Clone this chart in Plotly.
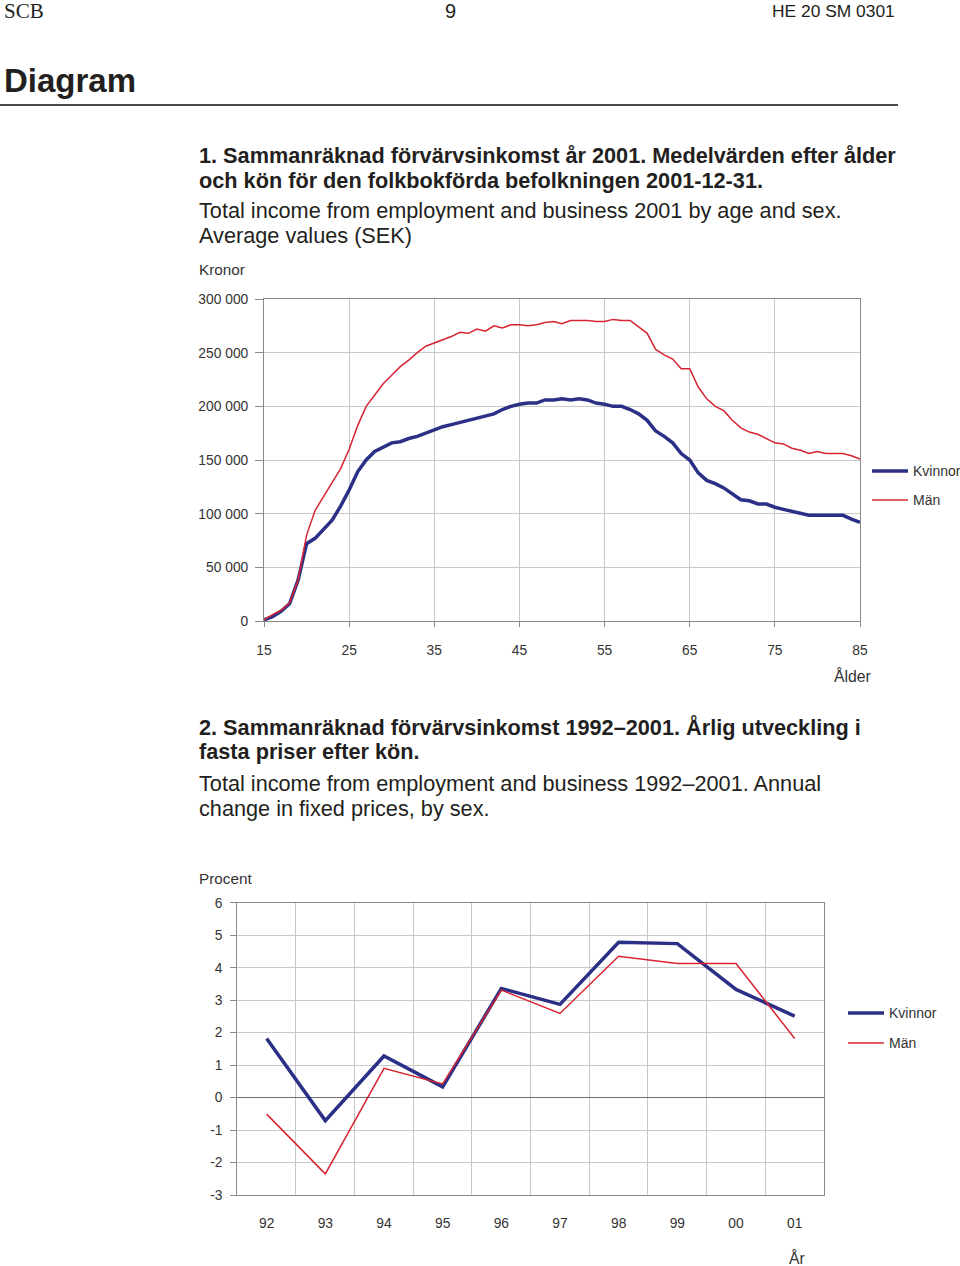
import plotly.graph_objects as go

# ---------------- Data ----------------
ages = list(range(15, 86))
kvinnor_age = [1000, 4000, 9000, 16000, 38000, 72000, 77000, 85000, 94000, 107000,
               122000, 139000, 150000, 158000, 162000, 166000, 167000, 170000, 172000, 175000,
               178000, 181000, 183000, 185000, 187000, 189000, 191000, 193000, 197000, 200000,
               202000, 203000, 203000, 206000, 206000, 207000, 206000, 207000, 206000, 203000,
               202000, 200000, 200000, 197000, 193000, 187000, 177000, 172000, 166000, 156000,
               150000, 138000, 131000, 128000, 124000, 118000, 113000, 112000, 109000, 109000,
               106000, 104000, 102000, 100000, 98500, 98500, 98500, 98500, 98500, 95000,
               92000]
man_age = [1000, 6000, 10000, 17000, 38000, 80000, 103000, 116000, 128000, 142000,
           160000, 182000, 200000, 211000, 221000, 229000, 237000, 243000, 250000, 256000,
           259000, 262000, 265000, 269000, 268000, 272000, 270000, 275000, 273000, 276000,
           276000, 275000, 276000, 278000, 279000, 277000, 280000, 280000, 280000, 279000,
           279000, 281000, 280000, 280000, 274000, 268000, 253000, 248000, 244000, 235000,
           235000, 218000, 207000, 200000, 196000, 187000, 180000, 176000, 174000, 170000,
           166000, 165000, 161000, 159000, 156000, 158000, 156000, 156000, 156000, 154000,
           151000]

age_ticks = [15, 25, 35, 45, 55, 65, 75, 85]
kronor_ticks = [0, 50000, 100000, 150000, 200000, 250000, 300000]
kronor_labels = ["0", "50 000", "100 000", "150 000", "200 000", "250 000", "300 000"]

years = ["92", "93", "94", "95", "96", "97", "98", "99", "00", "01"]
kvinnor_year = [1.82, -0.71, 1.28, 0.33, 3.36, 2.87, 4.78, 4.74, 3.33, 2.51]
man_year = [-0.51, -2.35, 0.90, 0.42, 3.31, 2.59, 4.35, 4.13, 4.13, 1.82]
procent_ticks = [-3, -2, -1, 0, 1, 2, 3, 4, 5, 6]
procent_labels = ["-3", "-2", "-1", "0", "1", "2", "3", "4", "5", "6"]

series_names = ["Kvinnor", "Män"]

# ---------------- Styling ----------------
W, H = 960, 1266
BLUE = "#2B2F86"
RED = "#D62430"
GRID = "#C8C8C8"
AXIS = "#8A8A8A"
TICKC = "#333333"
FONT = "Liberation Sans, Arial, sans-serif"


def px(x):
    return x / W


def py(y):
    return 1 - y / H


fig = go.Figure()

# Chart 1
fig.add_trace(go.Scatter(x=ages, y=kvinnor_age, mode="lines", name=series_names[0],
                         line=dict(color=BLUE, width=3.5), xaxis="x", yaxis="y",
                         showlegend=False))
fig.add_trace(go.Scatter(x=ages, y=man_age, mode="lines", name=series_names[1],
                         line=dict(color=RED, width=1.5), xaxis="x", yaxis="y",
                         showlegend=False))
# Chart 2
fig.add_trace(go.Scatter(x=years, y=kvinnor_year, mode="lines", name=series_names[0],
                         line=dict(color=BLUE, width=3.5), xaxis="x2", yaxis="y2",
                         showlegend=False))
fig.add_trace(go.Scatter(x=years, y=man_year, mode="lines", name=series_names[1],
                         line=dict(color=RED, width=1.5), xaxis="x2", yaxis="y2",
                         showlegend=False))

tickfont = dict(family=FONT, size=13.8, color=TICKC)

fig.update_layout(
    width=W, height=H, autosize=False,
    margin=dict(l=0, r=0, t=0, b=0, autoexpand=False),
    paper_bgcolor="white", plot_bgcolor="white",
    font=dict(family=FONT, color="#231F20"),
    hovermode=False,
    xaxis=dict(domain=[px(264), px(860)], range=[15, 85], anchor="y", automargin=False,
               tickvals=age_ticks, showgrid=True, gridcolor=GRID, gridwidth=1,
               showline=True, linecolor=AXIS, linewidth=1, mirror=True,
               ticks="outside", ticklen=5, tickcolor=AXIS,
               tickfont=tickfont, zeroline=False, ticklabelstandoff=11),
    yaxis=dict(domain=[py(621), py(299)], range=[0, 300000], anchor="x", automargin=False,
               tickvals=kronor_ticks, ticktext=kronor_labels,
               showgrid=True, gridcolor=GRID, gridwidth=1,
               showline=True, linecolor=AXIS, linewidth=1, mirror=True,
               ticks="outside", ticklen=8, tickcolor=AXIS,
               tickfont=tickfont, zeroline=False, ticklabelstandoff=4),
    xaxis2=dict(domain=[px(237.3), px(824)], anchor="y2", type="category", automargin=False,
                range=[-0.5, len(years) - 0.5],
                tickson="boundaries", showgrid=True, gridcolor=GRID, gridwidth=1,
                showline=True, linecolor=AXIS, linewidth=1, mirror=True,
                ticks="", tickfont=tickfont, ticklabelstandoff=15),
    yaxis2=dict(domain=[py(1195), py(902.7)], range=[-3, 6], anchor="x2", automargin=False,
                tickvals=procent_ticks, ticktext=procent_labels,
                showgrid=True, gridcolor=GRID, gridwidth=1,
                showline=True, linecolor=AXIS, linewidth=1, mirror=True,
                ticks="outside", ticklen=6, tickcolor=AXIS,
                zeroline=True, zerolinecolor="#6E6E6E", zerolinewidth=1,
                tickfont=tickfont, ticklabelstandoff=5),
)

annotations = []


def text(x, y, s, size=14, bold=False, family=FONT, color="#231F20", anchor="left"):
    if bold:
        s = "<b>" + s + "</b>"
    annotations.append(dict(x=px(x), y=py(y), xref="paper", yref="paper", text=s,
                            showarrow=False, xanchor=anchor, yanchor="middle",
                            borderpad=0, font=dict(family=family, size=size, color=color)))


# Header
text(3, 11, "SCB", size=21, family="Liberation Serif, Times New Roman, serif")
text(450, 11, "9", size=20, anchor="center")
text(896, 11, "HE 20 SM 0301", size=17.4, anchor="right")
text(3, 81, "Diagram", size=33, bold=True)

# Chart 1 titles
TS = 21.7
text(198, 155, "1. Sammanräknad förvärvsinkomst år 2001. Medelvärden efter ålder", size=TS, bold=True)
text(198, 180, "och kön för den folkbokförda befolkningen 2001-12-31.", size=TS, bold=True)
text(198, 211, "Total income from employment and business 2001 by age and sex.", size=TS)
text(198, 236, "Average values (SEK)", size=TS)
text(198, 269, "Kronor", size=15.3, color=TICKC)
text(872, 676, "Ålder", size=15.8, color=TICKC, anchor="right")

# Chart 2 titles
text(198, 727, "2. Sammanräknad förvärvsinkomst 1992–2001. Årlig utveckling i", size=TS, bold=True)
text(198, 752, "fasta priser efter kön.", size=TS, bold=True)
text(198, 783, "Total income from employment and business 1992–2001. Annual", size=TS)
text(198, 808, "change in fixed prices, by sex.", size=TS)
text(198, 878, "Procent", size=15.3, color=TICKC)
text(797, 1258, "År", size=15.8, color=TICKC, anchor="center")

shapes = [dict(type="line", xref="paper", yref="paper", x0=0, x1=px(898),
               y0=py(105), y1=py(105), line=dict(color="#4A4A4A", width=2))]

# Manual legends
legend_pos = [(872, 471, 500), (848, 1013, 1043)]
for (lx, yk, ym) in legend_pos:
    shapes.append(dict(type="line", xref="paper", yref="paper", x0=px(lx), x1=px(lx + 36),
                       y0=py(yk), y1=py(yk), line=dict(color=BLUE, width=3.5)))
    shapes.append(dict(type="line", xref="paper", yref="paper", x0=px(lx), x1=px(lx + 36),
                       y0=py(ym), y1=py(ym), line=dict(color=RED, width=1.5)))
    text(lx + 40, yk, series_names[0], size=14, color=TICKC)
    text(lx + 40, ym, series_names[1], size=14, color=TICKC)

fig.update_layout(annotations=annotations, shapes=shapes)

fig.write_html("out.html", config={"displayModeBar": False, "staticPlot": True},
               post_script="document.body.style.margin='0';document.body.style.overflow='hidden';")
